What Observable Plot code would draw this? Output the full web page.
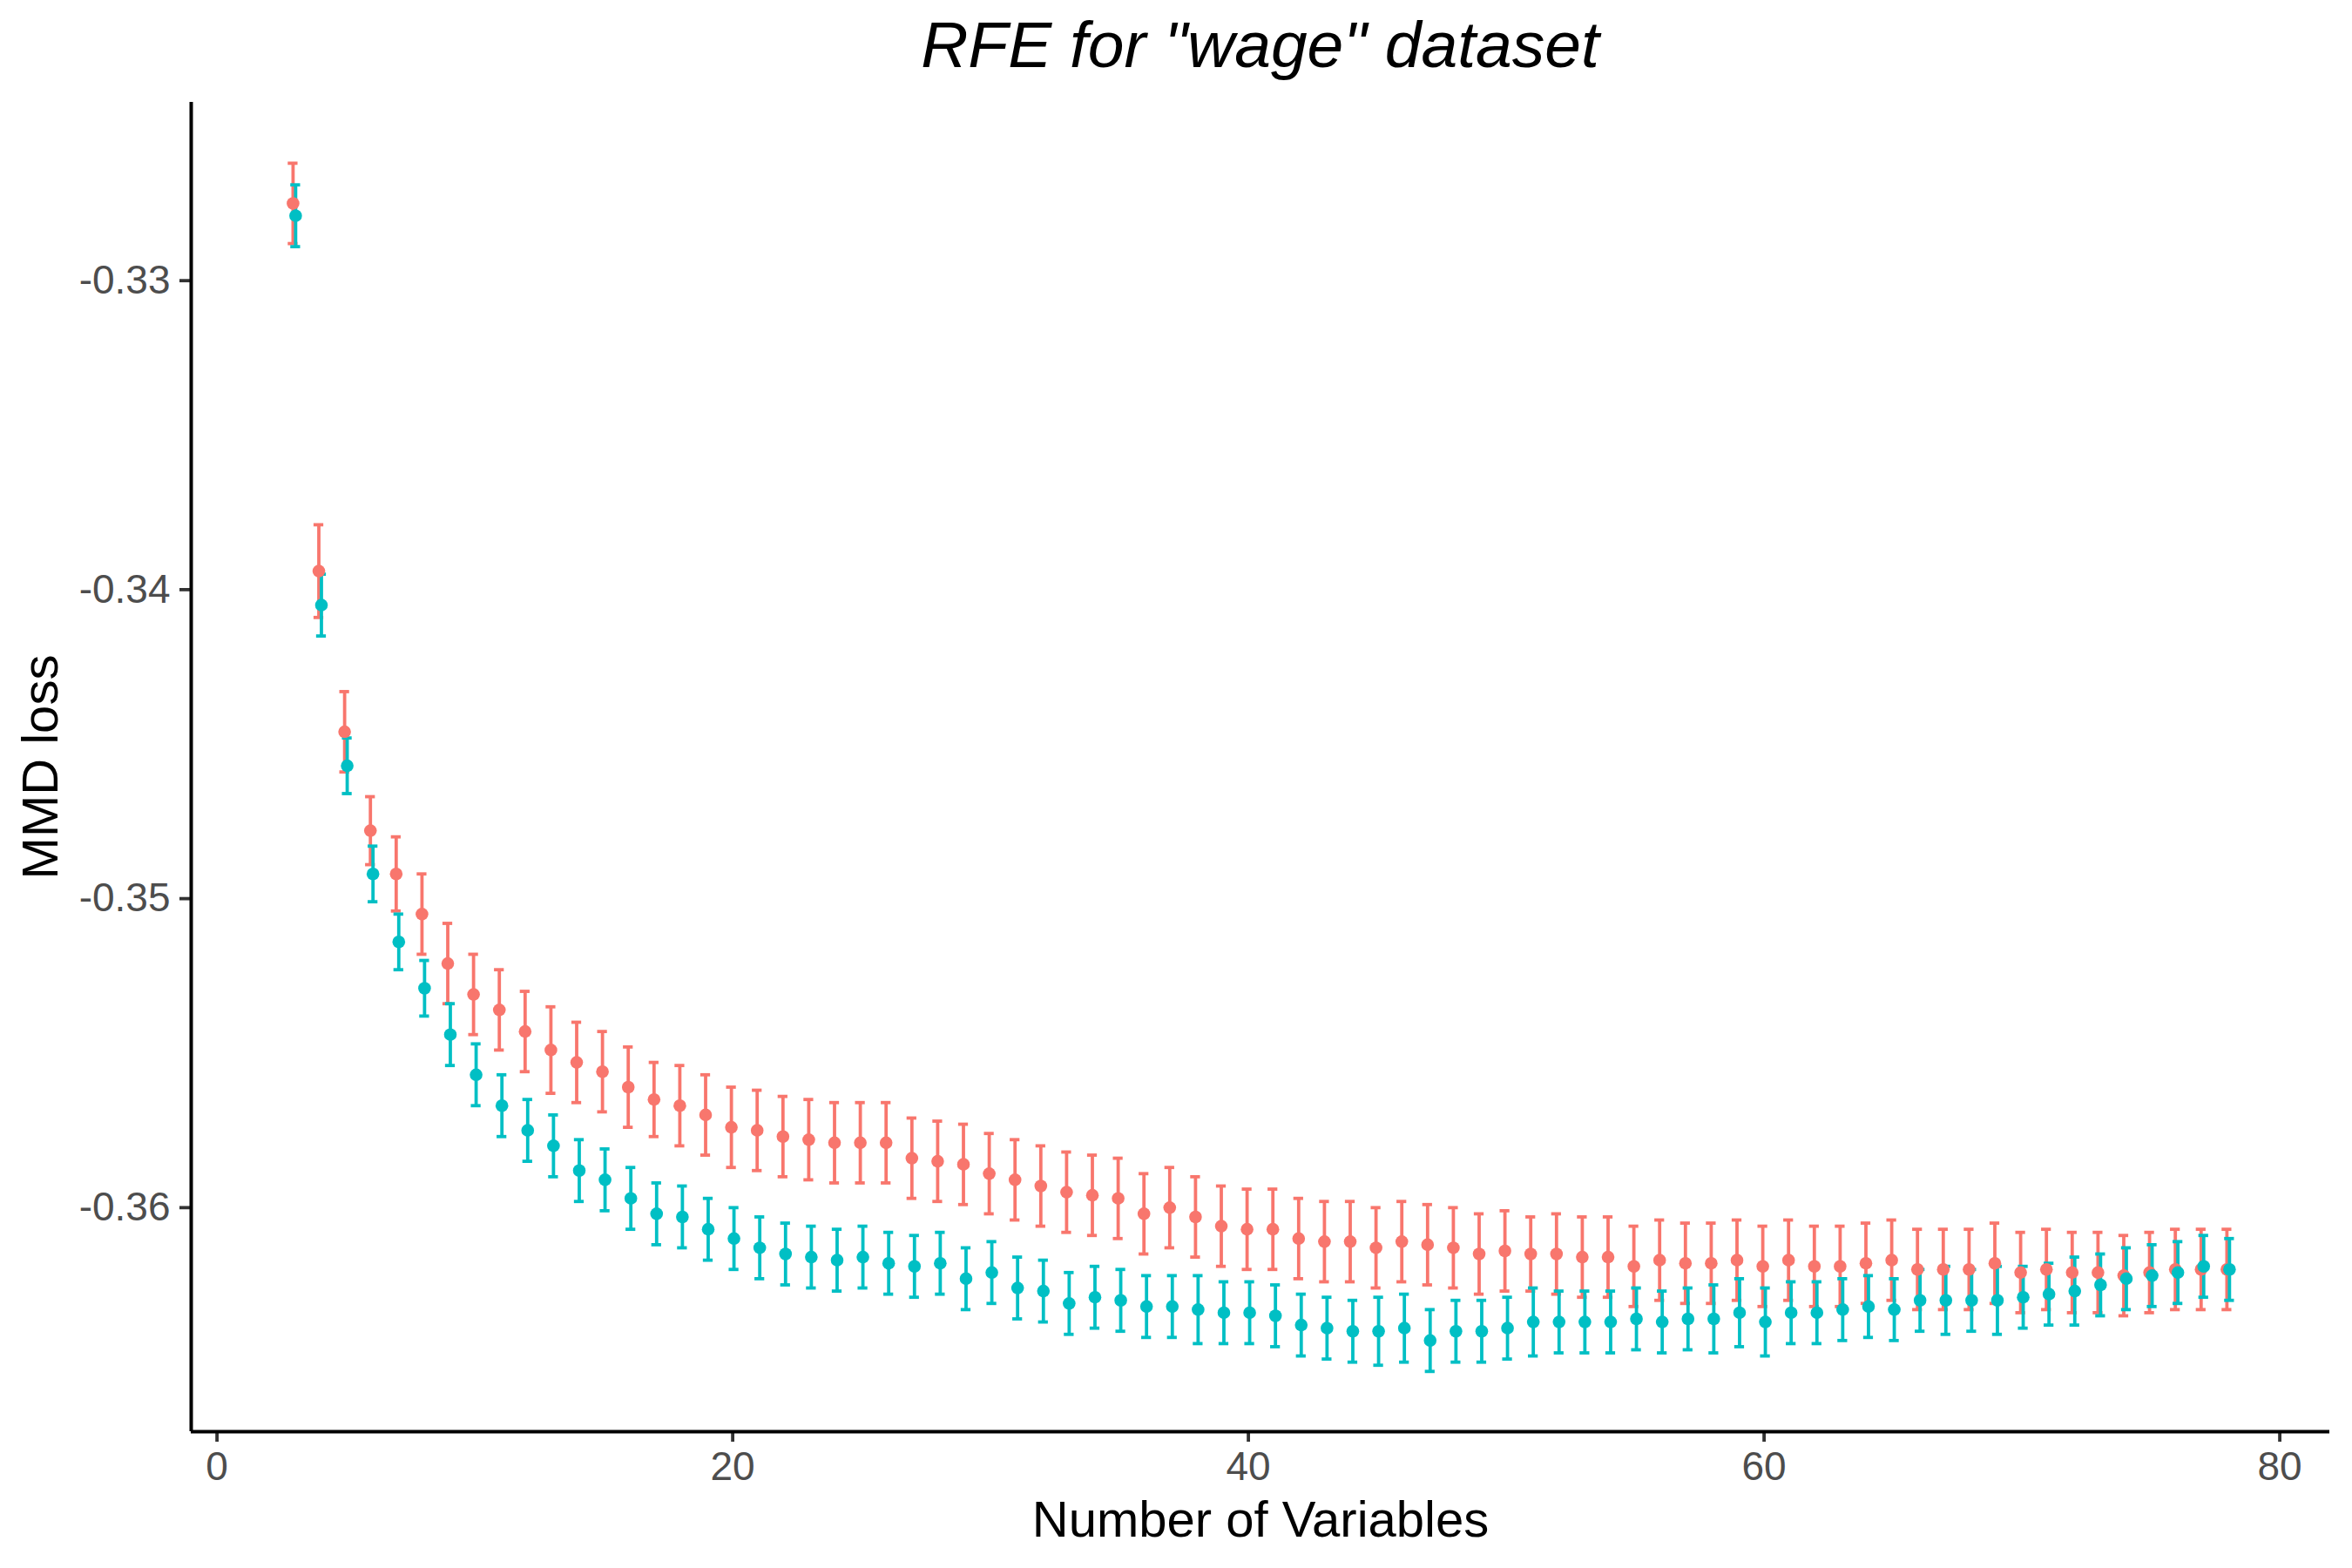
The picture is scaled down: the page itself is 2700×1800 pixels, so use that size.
<!DOCTYPE html>
<html>
<head>
<meta charset="utf-8">
<script src="https://cdn.jsdelivr.net/npm/d3@7"></script>
<script src="https://cdn.jsdelivr.net/npm/@observablehq/plot@0.6"></script>
<style>
  html, body { margin: 0; padding: 0; background: #ffffff; }
  #wrap { width: 2700px; height: 1800px; background: #ffffff; }
  #title {
    box-sizing: border-box; width: 2700px; height: 110px;
    padding: 13.5px 26px 0 219px; margin: 0;
    font-family: "Liberation Sans", Arial, Helvetica, sans-serif;
    font-style: italic; font-weight: normal; font-size: 75px; line-height: 1;
    text-align: center; color: #000000;
  }
  #chart svg { display: block; }
</style>
</head>
<body>
<div id="wrap">
  <div id="title"></div>
  <div id="chart"></div>
</div>
<script>
// ---- data ----
const chartTitle = 'RFE for "wage" dataset';
const xTitle = "Number of Variables";
const yTitle = "MMD loss";

const nVars = [3,4,5,6,7,8,9,10,11,12,13,14,15,16,17,18,19,20,21,22,23,24,25,26,27,28,29,30,
  31,32,33,34,35,36,37,38,39,40,41,42,43,44,45,46,47,48,49,50,51,52,53,54,55,56,57,58,59,60,
  61,62,63,64,65,66,67,68,69,70,71,72,73,74,75,76,77,78];

const redMean = [-0.3275,-0.3394,-0.3446,-0.3478,-0.3492,-0.3505,-0.3521,-0.3531,-0.3536,-0.3543,
  -0.3549,-0.3553,-0.3556,-0.3561,-0.3565,-0.3567,-0.3570,-0.3574,-0.3575,-0.3577,
  -0.3578,-0.3579,-0.3579,-0.3579,-0.3584,-0.3585,-0.3586,-0.3589,-0.3591,-0.3593,
  -0.3595,-0.3596,-0.3597,-0.3602,-0.3600,-0.3603,-0.3606,-0.3607,-0.3607,-0.3610,
  -0.3611,-0.3611,-0.3613,-0.3611,-0.3612,-0.3613,-0.3615,-0.3614,-0.3615,-0.3615,
  -0.3616,-0.3616,-0.3619,-0.3617,-0.3618,-0.3618,-0.3617,-0.3619,-0.3617,-0.3619,
  -0.3619,-0.3618,-0.3617,-0.3620,-0.3620,-0.3620,-0.3618,-0.3621,-0.3620,-0.3621,
  -0.3621,-0.3622,-0.3621,-0.3620,-0.3620,-0.3620];

const redErr = [0.0013,0.0015,0.0013,0.0011,0.0012,0.0013,0.0013,0.0013,0.0013,0.0013,
  0.0014,0.0013,0.0013,0.0013,0.0012,0.0013,0.0013,0.0013,0.0013,0.0013,
  0.0013,0.0013,0.0013,0.0013,0.0013,0.0013,0.0013,0.0013,0.0013,0.0013,
  0.0013,0.0013,0.0013,0.0013,0.0013,0.0013,0.0013,0.0013,0.0013,0.0013,
  0.0013,0.0013,0.0013,0.0013,0.0013,0.0013,0.0013,0.0013,0.0012,0.0013,
  0.0013,0.0013,0.0013,0.0013,0.0013,0.0013,0.0013,0.0013,0.0013,0.0013,
  0.0013,0.0013,0.0013,0.0013,0.0013,0.0013,0.0013,0.0013,0.0013,0.0013,
  0.0013,0.0013,0.0013,0.0013,0.0013,0.0013];

const cyanMean = [-0.3279,-0.3405,-0.3457,-0.3492,-0.3514,-0.3529,-0.3544,-0.3557,-0.3567,-0.3575,
  -0.3580,-0.3588,-0.3591,-0.3597,-0.3602,-0.3603,-0.3607,-0.3610,-0.3613,-0.3615,
  -0.3616,-0.3617,-0.3616,-0.3618,-0.3619,-0.3618,-0.3623,-0.3621,-0.3626,-0.3627,
  -0.3631,-0.3629,-0.3630,-0.3632,-0.3632,-0.3633,-0.3634,-0.3634,-0.3635,-0.3638,
  -0.3639,-0.3640,-0.3640,-0.3639,-0.3643,-0.3640,-0.3640,-0.3639,-0.3637,-0.3637,
  -0.3637,-0.3637,-0.3636,-0.3637,-0.3636,-0.3636,-0.3634,-0.3637,-0.3634,-0.3634,
  -0.3633,-0.3632,-0.3633,-0.3630,-0.3630,-0.3630,-0.3630,-0.3629,-0.3628,-0.3627,
  -0.3625,-0.3623,-0.3622,-0.3621,-0.3619,-0.3620];

const cyanErr = [0.0010,0.0010,0.0009,0.0009,0.0009,0.0009,0.0010,0.0010,0.0010,0.0010,
  0.0010,0.0010,0.0010,0.0010,0.0010,0.0010,0.0010,0.0010,0.0010,0.0010,
  0.0010,0.0010,0.0010,0.0010,0.0010,0.0010,0.0010,0.0010,0.0010,0.0010,
  0.0010,0.0010,0.0010,0.0010,0.0010,0.0011,0.0010,0.0010,0.0010,0.0010,
  0.0010,0.0010,0.0011,0.0011,0.0010,0.0010,0.0010,0.0010,0.0011,0.0010,
  0.0010,0.0010,0.0010,0.0010,0.0010,0.0011,0.0011,0.0011,0.0010,0.0010,
  0.0010,0.0010,0.0010,0.0010,0.0011,0.0010,0.0011,0.0010,0.0010,0.0011,
  0.0010,0.0010,0.0010,0.0010,0.0010,0.0010];

const seriesNames = ["series A", "series B"];
const seriesColors = ["#F8766D", "#00BFC4"];
const xTicks = [0, 20, 40, 60, 80];
const yTicks = [-0.36, -0.35, -0.34, -0.33];

// ---- build table ----
const dodge = [-0.05, 0.05];
const means = [redMean, cyanMean];
const errs = [redErr, cyanErr];
const rows = [];
seriesNames.forEach((name, si) => {
  nVars.forEach((n, i) => {
    const m = means[si][i], e = errs[si][i];
    rows.push({series: name, x: n + dodge[si], mean: m, lo: m - e, hi: m + e});
  });
});

const xDomain = [-1.0, 81.94];
const yDomain = [-0.36725, -0.32423];
const capHalf = 0.19;
const lw = 3.8;

document.getElementById("title").textContent = chartTitle;

const barMarks = [];
seriesNames.forEach(name => {
  const sub = rows.filter(r => r.series === name);
  barMarks.push(
    Plot.ruleX(sub, {x: "x", y1: "lo", y2: "hi", stroke: "series", strokeWidth: lw}),
    Plot.ruleY(sub, {y: "lo", x1: d => d.x - capHalf, x2: d => d.x + capHalf, stroke: "series", strokeWidth: lw}),
    Plot.ruleY(sub, {y: "hi", x1: d => d.x - capHalf, x2: d => d.x + capHalf, stroke: "series", strokeWidth: lw})
  );
});

const chart = Plot.plot({
  width: 2700,
  height: 1690,
  marginTop: 7,
  marginBottom: 157,
  marginLeft: 219,
  marginRight: 26,
  style: {fontFamily: "'Liberation Sans', Arial, Helvetica, sans-serif", background: "#ffffff", overflow: "visible"},
  x: {domain: xDomain},
  y: {domain: yDomain},
  color: {type: "ordinal", domain: seriesNames, range: seriesColors},
  marks: [
    Plot.axisX({ticks: xTicks, tickSize: 12, tickPadding: 11, fontSize: 46, stroke: "#333333", fill: "#4D4D4D",
      strokeWidth: lw, tickFormat: d => String(d), label: null}),
    Plot.axisY({ticks: yTicks, tickSize: 13, tickPadding: 11, fontSize: 46, stroke: "#333333", fill: "#4D4D4D",
      strokeWidth: lw, tickFormat: d => d.toFixed(2), label: null}),
    ...barMarks,
    Plot.dot(rows, {x: "x", y: "mean", fill: "series", r: 7.3}),
    Plot.ruleX([xDomain[0]], {stroke: "#000000", strokeWidth: 4}),
    Plot.ruleY([yDomain[0]], {stroke: "#000000", strokeWidth: 4}),
    Plot.text([xTitle], {frameAnchor: "bottom", lineAnchor: "bottom", dy: 120, fontSize: 58, fill: "#000000"}),
    Plot.text([yTitle], {frameAnchor: "left", textAnchor: "middle", lineAnchor: "bottom", rotate: -90, dx: -154, fontSize: 58, fill: "#000000"})
  ]
});
document.getElementById("chart").appendChild(chart);
</script>
</body>
</html>
